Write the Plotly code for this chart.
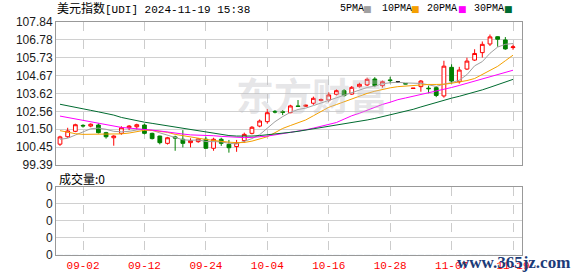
import plotly.graph_objects as go

# ---------------- data ----------------
dates = ["08-28", "08-29", "08-30", "09-02", "09-03", "09-04", "09-05", "09-06", "09-09", "09-10",
         "09-11", "09-12", "09-13", "09-16", "09-17", "09-18", "09-19", "09-20", "09-23", "09-24",
         "09-25", "09-26", "09-27", "09-30", "10-01", "10-02", "10-03", "10-04", "10-07", "10-08",
         "10-09", "10-10", "10-11", "10-14", "10-15", "10-16", "10-17", "10-18", "10-21", "10-22",
         "10-23", "10-24", "10-25", "10-28", "10-29", "10-30", "10-31", "11-01", "11-04", "11-05",
         "11-06", "11-07", "11-08", "11-11", "11-12", "11-13", "11-14", "11-15", "11-18", "11-19"]

opens = [100.62, 101.06, 101.38, 101.73, 101.69, 101.75, 101.30, 101.00, 101.26, 101.59,
         101.65, 101.75, 101.26, 101.10, 100.67, 101.05, 100.91, 100.71, 100.77, 100.91,
         100.38, 100.91, 100.61, 100.48, 100.83, 101.26, 101.69, 101.95, 102.56, 102.54,
         102.48, 102.88, 102.86, 103.04, 103.20, 103.23, 103.57, 103.78, 103.58, 104.02,
         104.12, 104.47, 104.08, 104.42, 104.30, 104.20, 103.91, 104.02, 103.93, 103.96,
         103.47, 105.16, 104.31, 105.06, 105.59, 106.03, 106.54, 106.97, 106.78, 106.33]
highs = [101.12, 101.59, 101.83, 101.80, 101.85, 101.85, 101.35, 101.15, 101.68, 101.75,
         101.83, 101.84, 101.30, 101.12, 101.05, 101.12, 101.45, 100.97, 100.98, 101.06,
         101.00, 101.00, 100.87, 100.87, 101.30, 101.69, 102.08, 102.70, 102.64, 102.64,
         102.95, 103.23, 102.96, 103.43, 103.32, 103.69, 103.86, 103.88, 104.06, 104.25,
         104.55, 104.58, 104.38, 104.60, 104.32, 104.21, 103.94, 104.41, 104.08, 104.06,
         105.55, 105.34, 105.19, 105.73, 106.23, 106.69, 107.10, 107.00, 106.95, 106.50]
lows = [100.52, 101.00, 101.33, 101.60, 101.62, 101.25, 100.95, 100.53, 101.18, 101.45,
        101.49, 101.20, 100.90, 100.61, 100.60, 100.23, 100.43, 100.43, 100.70, 100.35,
        100.23, 100.52, 100.12, 100.17, 100.70, 101.20, 101.62, 101.83, 102.44, 102.34,
        102.45, 102.82, 102.83, 102.95, 103.15, 103.13, 103.50, 103.43, 103.53, 103.96,
        104.06, 103.99, 103.96, 104.22, 104.28, 104.17, 103.90, 103.72, 103.63, 103.40,
        103.37, 104.20, 104.20, 105.00, 105.54, 105.74, 106.42, 106.38, 106.20, 106.20]
closes = [101.05, 101.40, 101.77, 101.70, 101.80, 101.30, 101.06, 101.10, 101.59, 101.69,
          101.77, 101.26, 100.95, 100.71, 101.00, 100.98, 100.67, 100.83, 100.93, 100.38,
          100.91, 100.67, 100.41, 100.71, 101.20, 101.62, 101.99, 102.48, 102.52, 102.50,
          102.88, 102.85, 102.92, 103.33, 103.26, 103.53, 103.78, 103.49, 103.98, 104.16,
          104.45, 104.08, 104.31, 104.38, 104.30, 104.18, 103.93, 104.35, 103.90, 103.50,
          105.23, 104.35, 105.00, 105.53, 105.98, 106.52, 106.96, 106.82, 106.25, 106.37]

ma5 = [100.91, 100.97, 101.16, 101.36, 101.53, 101.57, 101.50, 101.38, 101.35, 101.38,
       101.46, 101.49, 101.44, 101.29, 101.15, 100.99, 100.88, 100.85, 100.87, 100.78,
       100.76, 100.76, 100.67, 100.64, 100.79, 100.95, 101.18, 101.55, 101.95, 102.25,
       102.50, 102.67, 102.75, 102.90, 103.05, 103.20, 103.37, 103.50, 103.63, 103.80,
       103.97, 104.05, 104.19, 104.25, 104.28, 104.24, 104.21, 104.21, 104.13, 104.03,
       104.17, 104.26, 104.40, 104.73, 105.25, 105.50, 105.99, 106.36, 106.52, 106.57]
ma10 = [101.42, 101.32, 101.24, 101.20, 101.20, 101.20, 101.20, 101.21, 101.23, 101.28,
        101.36, 101.44, 101.43, 101.38, 101.32, 101.20, 101.12, 101.02, 100.96, 100.90,
        100.84, 100.77, 100.74, 100.71, 100.72, 100.80, 100.92, 101.06, 101.30, 101.55,
        101.72, 101.88, 102.05, 102.30, 102.55, 102.80, 102.96, 103.12, 103.32, 103.48,
        103.62, 103.75, 103.86, 103.95, 104.02, 104.06, 104.08, 104.12, 104.15, 104.15,
        104.16, 104.22, 104.28, 104.38, 104.50, 104.75, 104.98, 105.22, 105.55, 105.88]
ma20 = [102.28, 102.20, 102.12, 102.04, 101.96, 101.86, 101.77, 101.68, 101.61, 101.57,
        101.54, 101.50, 101.45, 101.40, 101.33, 101.28, 101.22, 101.17, 101.16, 101.15,
        101.12, 101.08, 101.05, 101.02, 101.01, 101.02, 101.05, 101.10, 101.17, 101.24,
        101.30, 101.38, 101.47, 101.57, 101.67, 101.78, 101.90, 102.10, 102.30, 102.45,
        102.63, 102.82, 102.97, 103.10, 103.25, 103.35, 103.45, 103.55, 103.64, 103.74,
        103.85, 103.97, 104.09, 104.22, 104.35, 104.50, 104.63, 104.75, 104.87, 104.99]
ma30 = [102.98, 102.90, 102.81, 102.72, 102.62, 102.53, 102.44, 102.34, 102.20, 102.10,
        102.01, 101.92, 101.85, 101.78, 101.70, 101.64, 101.56, 101.49, 101.42, 101.36,
        101.28, 101.18, 101.13, 101.10, 101.08, 101.10, 101.13, 101.17, 101.22, 101.27,
        101.32, 101.38, 101.45, 101.53, 101.60, 101.66, 101.73, 101.81, 101.89, 101.97,
        102.05, 102.14, 102.24, 102.36, 102.47, 102.58, 102.68, 102.82, 102.96, 103.10,
        103.23, 103.34, 103.45, 103.57, 103.70, 103.83, 103.98, 104.15, 104.30, 104.45]
volume = [0] * 60

ma_names = ["5PMA", "10PMA", "20PMA", "30PMA"]
ma_series = [ma5, ma10, ma20, ma30]
ma_colors = ["#a0a0a0", "#f5a000", "#ff00ff", "#006b30"]

price_ticks = ["99.39", "100.45", "101.50", "102.56", "103.62", "104.67", "105.73", "106.78", "107.84"]
date_ticks = ["09-02", "09-12", "09-24", "10-04", "10-16", "10-28", "11-07", "11-19"]
vol_ticks = ["0", "0", "0", "0", "0"]

title_text = "美元指数[UDI] 2024-11-19 15:38"
vol_label = "成交量:0"

# ---------------- figure ----------------
RED = "#ff0000"
GREEN = "#008000"

flat = [i for i in range(len(dates)) if opens[i] == closes[i]]
normal = [i for i in range(len(dates)) if opens[i] != closes[i]]

fig = go.Figure()

for name, ys, col in zip(ma_names, ma_series, ma_colors):
    fig.add_trace(go.Scatter(x=dates, y=ys, mode="lines", name=name,
                             line=dict(color=col, width=1), xaxis="x", yaxis="y",
                             showlegend=False, hoverinfo="skip"))

fig.add_trace(go.Candlestick(
    x=[dates[i] for i in normal],
    open=[opens[i] for i in normal], high=[highs[i] for i in normal],
    low=[lows[i] for i in normal], close=[closes[i] for i in normal],
    increasing=dict(line=dict(color=RED, width=1), fillcolor="#ffffff"),
    decreasing=dict(line=dict(color=GREEN, width=1), fillcolor=GREEN),
    xaxis="x", yaxis="y", showlegend=False))

fig.add_trace(go.Candlestick(
    x=[dates[i] for i in flat],
    open=[opens[i] for i in flat], high=[highs[i] for i in flat],
    low=[lows[i] for i in flat], close=[closes[i] for i in flat],
    increasing=dict(line=dict(color="#000000", width=1), fillcolor="#000000"),
    decreasing=dict(line=dict(color="#000000", width=1), fillcolor="#000000"),
    xaxis="x", yaxis="y", showlegend=False))

fig.add_trace(go.Bar(x=dates, y=volume, xaxis="x2", yaxis="y2",
                     marker_color=GREEN, showlegend=False))

W, H = 578, 276
L, R, T, B = 56, 56, 22, 21
PH = H - T - B
PW = W - L - R


def px(x):
    return (x - L) / PW


def py(y):
    return (H - B - y) / PH


xr = [-0.52, 60.17]
axis_common = dict(showline=True, linecolor="#999999", linewidth=1, mirror=True,
                   zeroline=False, automargin=False)

fig.update_layout(
    width=W, height=H,
    margin=dict(l=L, r=R, t=T, b=B, pad=0, autoexpand=False),
    paper_bgcolor="#ffffff", plot_bgcolor="#ffffff",
    showlegend=False,
    xaxis=dict(domain=[0, 1], type="category", categoryorder="array", categoryarray=dates,
               range=xr, anchor="y", tickvals=date_ticks, showticklabels=False,
               showgrid=True, gridcolor="#cccccc", griddash="dash", gridwidth=1,
               rangeslider=dict(visible=False), ticks="", **axis_common),
    xaxis2=dict(domain=[0, 1], type="category", categoryorder="array", categoryarray=dates,
                range=xr, anchor="y2", matches="x", tickvals=date_ticks, ticktext=date_ticks,
                showticklabels=True, tickfont=dict(family="Liberation Mono", size=11, color=RED),
                showgrid=True, gridcolor="#cccccc", griddash="dash", gridwidth=1,
                ticks="", **axis_common),
    yaxis=dict(domain=[py(165), 1], range=[99.39, 107.84],
               tickvals=[float(t) for t in price_ticks], ticktext=price_ticks,
               tickfont=dict(family="Liberation Sans, Arial", size=12, color="#1a1a1a"),
               showgrid=True, gridcolor="#d0d0d0", gridwidth=1, ticks="", anchor="x",
               **axis_common),
    yaxis2=dict(domain=[0, py(186.7)], range=[0, 4],
                tickvals=list(range(len(vol_ticks))), ticktext=vol_ticks,
                tickfont=dict(family="Liberation Sans, Arial", size=12, color="#1a1a1a"),
                showgrid=True, gridcolor="#d0d0d0", gridwidth=1, ticks="", anchor="x2",
                **axis_common),
)

ann = []
# title
ann.append(dict(xref="paper", yref="paper", x=px(55), y=py(9), xanchor="left", yanchor="middle",
                text="<span style='font-size:12px'>" + title_text[:4] + "</span>" + title_text[4:],
                showarrow=False, font=dict(family="Liberation Mono, Noto Sans CJK SC", size=11,
                                           color="#000000")))
# MA legend: label text then coloured swatch
leg_x = [338, 380, 425, 472]
sw_x = [367, 415.5, 462.5, 508.5]
for name, col, lx, sx in zip(ma_names, ma_colors, leg_x, sw_x):
    ann.append(dict(xref="paper", yref="paper", x=px(lx), y=py(9), xanchor="left",
                    yanchor="middle", showarrow=False, text=name,
                    font=dict(family="Liberation Mono", size=10, color="#000000")))
    ann.append(dict(xref="paper", yref="paper", x=px(sx), y=py(9), xanchor="center",
                    yanchor="middle", showarrow=False, text="■",
                    font=dict(family="DejaVu Sans", size=9, color=col)))
# volume label
ann.append(dict(xref="paper", yref="paper", x=px(57), y=py(178), xanchor="left", yanchor="middle",
                text=vol_label, showarrow=False,
                font=dict(family="Noto Sans CJK SC", size=12, color="#000000")))
# watermarks
ann.append(dict(xref="paper", yref="paper", x=px(312), y=py(93), xanchor="center", yanchor="middle",
                text="<b>东方财富</b>", showarrow=False,
                font=dict(family="Noto Sans CJK SC", size=38, color="rgba(190,190,195,0.4)")))
ann.append(dict(xref="paper", yref="paper", x=px(513), y=py(262), xanchor="center", yanchor="middle",
                text="<b>www.365jz.com</b>", showarrow=False,
                font=dict(family="Liberation Serif", size=17, color="#1c3b78")))
fig.update_layout(annotations=ann)

fig.write_html("out.html")
